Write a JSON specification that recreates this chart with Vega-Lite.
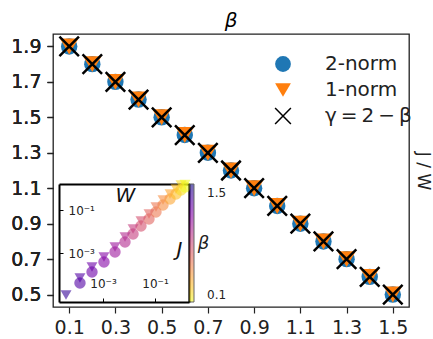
{
  "$schema": "https://vega.github.io/schema/vega-lite/v6.json",
  "width": 356,
  "height": 273,
  "autosize": {"type": "none"},
  "padding": {"left": 53, "top": 34, "right": 24, "bottom": 32},
  "title": {"text": "β", "fontSize": 20, "fontStyle": "italic", "fontWeight": "normal", "font": "DejaVu Sans", "color": "#000", "offset": 1, "anchor": "middle"},
  "config": {
    "font": "DejaVu Sans",
    "view": {"stroke": "#222", "strokeWidth": 1.3},
    "axis": {"grid": false}
  },
  "datasets": {
    "main": [
      {"beta": 0.1, "val": 1.9, "series": "2-norm"}, {"beta": 0.2, "val": 1.8, "series": "2-norm"}, {"beta": 0.3, "val": 1.7, "series": "2-norm"}, {"beta": 0.4, "val": 1.6, "series": "2-norm"}, {"beta": 0.5, "val": 1.5, "series": "2-norm"}, {"beta": 0.6, "val": 1.4, "series": "2-norm"}, {"beta": 0.7, "val": 1.3, "series": "2-norm"}, {"beta": 0.8, "val": 1.2, "series": "2-norm"}, {"beta": 0.9, "val": 1.1, "series": "2-norm"}, {"beta": 1.0, "val": 1.0, "series": "2-norm"}, {"beta": 1.1, "val": 0.9, "series": "2-norm"}, {"beta": 1.2, "val": 0.8, "series": "2-norm"}, {"beta": 1.3, "val": 0.7, "series": "2-norm"}, {"beta": 1.4, "val": 0.6, "series": "2-norm"}, {"beta": 1.5, "val": 0.5, "series": "2-norm"},
      {"beta": 0.1, "val": 1.9, "series": "1-norm"}, {"beta": 0.2, "val": 1.8, "series": "1-norm"}, {"beta": 0.3, "val": 1.7, "series": "1-norm"}, {"beta": 0.4, "val": 1.6, "series": "1-norm"}, {"beta": 0.5, "val": 1.5, "series": "1-norm"}, {"beta": 0.6, "val": 1.4, "series": "1-norm"}, {"beta": 0.7, "val": 1.3, "series": "1-norm"}, {"beta": 0.8, "val": 1.2, "series": "1-norm"}, {"beta": 0.9, "val": 1.1, "series": "1-norm"}, {"beta": 1.0, "val": 1.0, "series": "1-norm"}, {"beta": 1.1, "val": 0.9, "series": "1-norm"}, {"beta": 1.2, "val": 0.8, "series": "1-norm"}, {"beta": 1.3, "val": 0.7, "series": "1-norm"}, {"beta": 1.4, "val": 0.6, "series": "1-norm"}, {"beta": 1.5, "val": 0.5, "series": "1-norm"},
      {"beta": 0.1, "val": 1.9, "series": "γ = 2 − β"}, {"beta": 0.2, "val": 1.8, "series": "γ = 2 − β"}, {"beta": 0.3, "val": 1.7, "series": "γ = 2 − β"}, {"beta": 0.4, "val": 1.6, "series": "γ = 2 − β"}, {"beta": 0.5, "val": 1.5, "series": "γ = 2 − β"}, {"beta": 0.6, "val": 1.4, "series": "γ = 2 − β"}, {"beta": 0.7, "val": 1.3, "series": "γ = 2 − β"}, {"beta": 0.8, "val": 1.2, "series": "γ = 2 − β"}, {"beta": 0.9, "val": 1.1, "series": "γ = 2 − β"}, {"beta": 1.0, "val": 1.0, "series": "γ = 2 − β"}, {"beta": 1.1, "val": 0.9, "series": "γ = 2 − β"}, {"beta": 1.2, "val": 0.8, "series": "γ = 2 − β"}, {"beta": 1.3, "val": 0.7, "series": "γ = 2 − β"}, {"beta": 1.4, "val": 0.6, "series": "γ = 2 − β"}, {"beta": 1.5, "val": 0.5, "series": "γ = 2 − β"}
    ],
    "inset": [
      {"beta": 1.4, "norm": "2-norm", "W": 0.000130, "J": 0.0000403},
      {"beta": 1.3, "norm": "2-norm", "W": 0.000377, "J": 0.000131},
      {"beta": 1.2, "norm": "2-norm", "W": 0.00109, "J": 0.000381},
      {"beta": 1.1, "norm": "2-norm", "W": 0.00289, "J": 0.00111},
      {"beta": 1.0, "norm": "2-norm", "W": 0.00702, "J": 0.00325},
      {"beta": 0.9, "norm": "2-norm", "W": 0.0143, "J": 0.00766},
      {"beta": 0.8, "norm": "2-norm", "W": 0.0289, "J": 0.0180},
      {"beta": 0.7, "norm": "2-norm", "W": 0.0588, "J": 0.0381},
      {"beta": 0.6, "norm": "2-norm", "W": 0.109, "J": 0.0807},
      {"beta": 0.5, "norm": "2-norm", "W": 0.203, "J": 0.171},
      {"beta": 0.4, "norm": "2-norm", "W": 0.378, "J": 0.325},
      {"beta": 0.3, "norm": "2-norm", "W": 0.643, "J": 0.555},
      {"beta": 0.2, "norm": "2-norm", "W": 1.0, "J": 0.851},
      {"beta": 0.1, "norm": "2-norm", "W": 1.43, "J": 1.17},
      {"beta": 1.5, "norm": "1-norm", "W": 0.0000378, "J": 0.0000111},
      {"beta": 1.4, "norm": "1-norm", "W": 0.000130, "J": 0.000069},
      {"beta": 1.3, "norm": "1-norm", "W": 0.000377, "J": 0.000224},
      {"beta": 1.2, "norm": "1-norm", "W": 0.00109, "J": 0.00065},
      {"beta": 1.1, "norm": "1-norm", "W": 0.00289, "J": 0.0019},
      {"beta": 1.0, "norm": "1-norm", "W": 0.00702, "J": 0.00556},
      {"beta": 0.9, "norm": "1-norm", "W": 0.0143, "J": 0.0131},
      {"beta": 0.8, "norm": "1-norm", "W": 0.0289, "J": 0.0308},
      {"beta": 0.7, "norm": "1-norm", "W": 0.0588, "J": 0.065},
      {"beta": 0.6, "norm": "1-norm", "W": 0.109, "J": 0.138},
      {"beta": 0.5, "norm": "1-norm", "W": 0.203, "J": 0.292},
      {"beta": 0.4, "norm": "1-norm", "W": 0.378, "J": 0.556},
      {"beta": 0.3, "norm": "1-norm", "W": 0.643, "J": 0.95},
      {"beta": 0.2, "norm": "1-norm", "W": 1.0, "J": 1.45},
      {"beta": 0.1, "norm": "1-norm", "W": 1.43, "J": 1.55}
    ]
  },
  "layer": [
    {
      "data": {"name": "main"},
      "encoding": {
        "x": {"field": "beta", "type": "quantitative",
          "scale": {"domain": [0.03, 1.57], "nice": false, "zero": false},
          "axis": {"values": [0.1, 0.3, 0.5, 0.7, 0.9, 1.1, 1.3, 1.5], "format": ".1f", "title": null, "domain": false, "tickSize": 6, "tickWidth": 1.2, "tickColor": "#222", "labelFontSize": 19, "labelColor": "#222", "labelPadding": 5}},
        "y": {"field": "val", "type": "quantitative",
          "scale": {"domain": [0.43, 1.97], "nice": false, "zero": false},
          "axis": {"orient": "left", "values": [0.5, 0.7, 0.9, 1.1, 1.3, 1.5, 1.7, 1.9], "format": ".1f", "title": null, "domain": false, "tickSize": 6, "tickWidth": 1.2, "tickColor": "#222", "labelFontSize": 19, "labelColor": "#222", "labelPadding": 6}},
        "shape": {"field": "series", "type": "nominal",
          "scale": {"domain": ["2-norm", "1-norm", "γ = 2 − β"], "range": ["circle", "triangle-down", "M-1,-1L1,1M-1,1L1,-1"]},
          "legend": {"orient": "none", "legendX": 220, "legendY": 20, "title": null, "labelFontSize": 20, "labelColor": "#222", "symbolSize": 250, "labelOffset": 32, "rowPadding": 5, "symbolStrokeWidth": 1.5, "padding": 0, "labelExpr": "replace(replace(datum.label, ' = ', '\u2009=\u2009'), ' − ', '\u2009−\u2009')"}},
        "fill": {"field": "series", "type": "nominal",
          "scale": {"domain": ["2-norm", "1-norm", "γ = 2 − β"], "range": ["#1f77b4", "#ff7f0e", "transparent"]},
          "legend": {"orient": "none", "legendX": 220, "legendY": 20, "title": null, "labelFontSize": 20, "labelColor": "#222", "symbolSize": 250, "labelOffset": 32, "rowPadding": 5, "symbolStrokeWidth": 1.5, "padding": 0, "labelExpr": "replace(replace(datum.label, ' = ', '\u2009=\u2009'), ' − ', '\u2009−\u2009')"}},
        "stroke": {"field": "series", "type": "nominal",
          "scale": {"domain": ["2-norm", "1-norm", "γ = 2 − β"], "range": ["transparent", "transparent", "#000"]},
          "legend": {"orient": "none", "legendX": 220, "legendY": 20, "title": null, "labelFontSize": 20, "labelColor": "#222", "symbolSize": 250, "labelOffset": 32, "rowPadding": 5, "symbolStrokeWidth": 1.5, "padding": 0, "labelExpr": "replace(replace(datum.label, ' = ', '\u2009=\u2009'), ' − ', '\u2009−\u2009')"}}
      },
      "layer": [
        {"transform": [{"filter": "datum.series == '2-norm'"}], "mark": {"type": "point", "filled": true, "opacity": 1, "size": 270}},
        {"transform": [{"filter": "datum.series == '1-norm'"}], "mark": {"type": "point", "filled": true, "opacity": 1, "size": 340}},
        {"transform": [{"filter": "datum.series == 'γ = 2 − β'"}], "mark": {"type": "point", "filled": true, "opacity": 1, "size": 380, "strokeWidth": 2.5}},
        {"mark": {"type": "point", "opacity": 0},
          "encoding": {
            "y": {"field": "val", "type": "quantitative", "axis": {"orient": "right", "title": "J / W", "labels": false, "ticks": false, "domain": false, "titleAngle": 90, "titleFontSize": 17, "titleFontWeight": "normal", "titleColor": "#222", "titlePadding": 4}},
            "shape": {"value": "circle"}, "fill": {"value": "#fff"}, "stroke": {"value": "#fff"}}}
      ],
      "resolve": {"axis": {"y": "independent"}}
    },
    {
      "data": {"name": "inset"},
      "encoding": {
        "x": {"field": "W", "type": "quantitative",
          "scale": {"type": "log", "domain": [0.0000203, 2.03], "range": [6, 136], "nice": false, "zero": false}},
        "y": {"field": "J", "type": "quantitative",
          "scale": {"type": "log", "domain": [0.00000526, 1.62], "range": [268, 150], "nice": false, "zero": false}},
        "color": {"field": "beta", "type": "quantitative",
          "scale": {"scheme": "plasma", "reverse": true, "domain": [0.1, 1.61]},
          "legend": {"orient": "none", "legendX": 136, "legendY": 150, "direction": "vertical", "gradientLength": 118, "gradientThickness": 5, "values": [0.1, 1.5], "format": ".1f", "title": null, "labelFontSize": 12, "labelColor": "#222", "labelOffset": 13, "labelBaseline": "middle", "gradientStrokeColor": "#000", "gradientStrokeWidth": 1, "padding": 0}}
      },
      "layer": [
        {
          "transform": [{"filter": "datum.norm == '2-norm'"}],
          "mark": {"type": "point", "filled": true, "opacity": 0.6, "size": 130, "shape": "circle"},
          "encoding": {
            "x": {"field": "W", "type": "quantitative",
              "axis": {"orient": "bottom", "offset": -5, "values": [0.001, 0.1], "labelExpr": "datum.value < 0.01 ? '10⁻³' : '10⁻¹'", "title": null, "tickSize": -4, "tickColor": "#000", "labelPadding": -15, "labelBaseline": "middle", "labelFontSize": 12, "labelColor": "#222", "domain": true, "domainColor": "#000", "domainWidth": 2}},
            "y": {"field": "J", "type": "quantitative",
              "axis": {"orient": "left", "offset": -6, "values": [0.001, 0.1], "labelExpr": "datum.value < 0.01 ? '10⁻³' : '10⁻¹'", "title": null, "tickSize": -4, "tickColor": "#000", "labelPadding": -5, "labelAlign": "left", "labelBaseline": "middle", "labelFontSize": 12, "labelColor": "#222", "domain": true, "domainColor": "#000", "domainWidth": 2}}
          }
        },
        {
          "transform": [{"filter": "datum.norm == '1-norm'"}],
          "mark": {"type": "point", "filled": true, "opacity": 0.6, "size": 120, "shape": "triangle-down"},
          "encoding": {
            "x": {"field": "W", "type": "quantitative", "axis": null},
            "y": {"field": "J", "type": "quantitative", "axis": null}
          }
        },
        {
          "mark": {"type": "point", "opacity": 0},
          "encoding": {
            "x": {"field": "W", "type": "quantitative",
              "axis": {"orient": "top", "offset": -150, "labels": false, "ticks": false, "domain": true, "domainColor": "#000", "domainWidth": 2, "title": "W", "titleFontSize": 20, "titleFontStyle": "italic", "titleFontWeight": "normal", "titleColor": "#111", "titleX": 72, "titleY": 11, "titleBaseline": "middle", "titleAlign": "center"}},
            "y": {"field": "J", "type": "quantitative",
              "axis": {"orient": "right", "offset": -220, "labels": false, "ticks": false, "domain": true, "domainColor": "#000", "domainWidth": 2, "title": "J", "titleFontSize": 20, "titleFontStyle": "italic", "titleFontWeight": "normal", "titleColor": "#111", "titleAngle": 0, "titleX": -10, "titleY": 215, "titleBaseline": "middle", "titleAlign": "center"}},
            "color": {"value": "#fff"}
          }
        },
        {
          "mark": {"type": "point", "opacity": 0},
          "encoding": {
            "x": {"field": "W", "type": "quantitative", "axis": null},
            "y": {"field": "J", "type": "quantitative",
              "axis": {"orient": "left", "offset": 0, "labels": false, "ticks": false, "domain": false, "title": "β", "titleFontSize": 18, "titleFontStyle": "italic", "titleFontWeight": "normal", "titleColor": "#222", "titleAngle": 0, "titleX": 150, "titleY": 209, "titleBaseline": "middle", "titleAlign": "center"}},
            "color": {"value": "#fff"}
          }
        }
      ],
      "resolve": {"axis": {"x": "independent", "y": "independent"}}
    }
  ],
  "resolve": {"scale": {"x": "independent", "y": "independent"}}
}
